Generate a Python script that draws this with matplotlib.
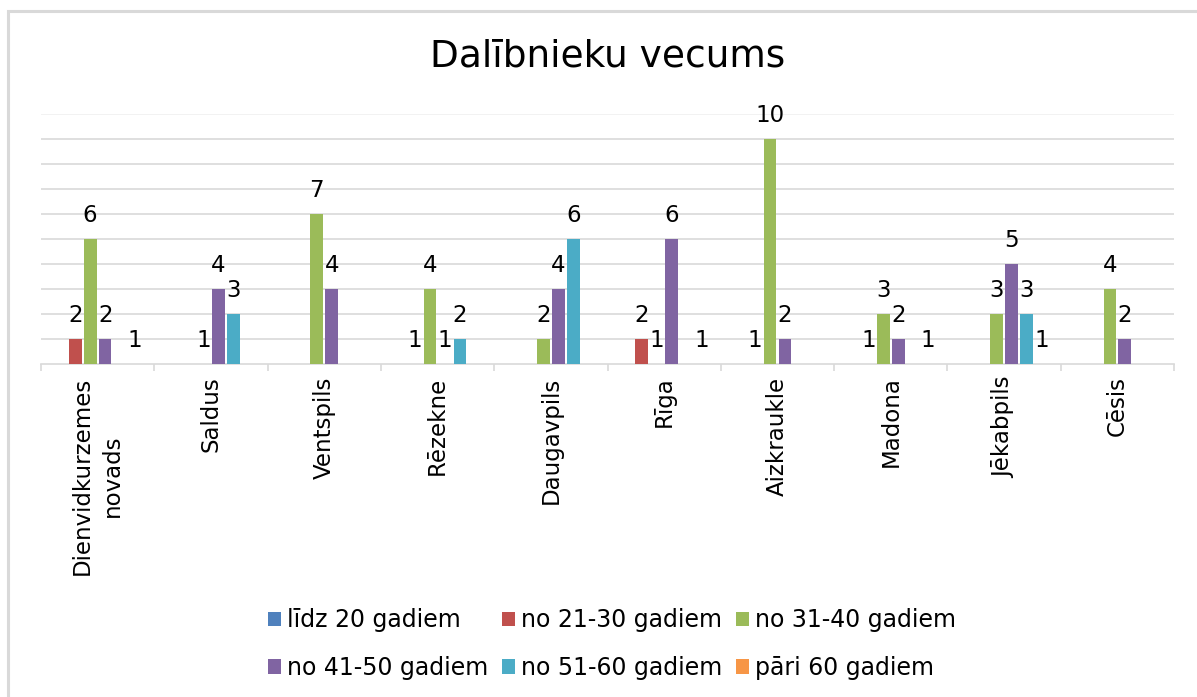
"""
Dalībnieku vecums - grouped bar chart
"""

import numpy as np
import matplotlib.pyplot as plt
from matplotlib.patches import Rectangle

# Categories (towns)
towns = ["Dienvidkurzemes\nnovads", "Saldus", "Ventspils", "Rēzekne", "Daugavpils",
         "Rīga", "Aizkraukle", "Madona", "Jēkabpils", "Cēsis"]

# Series labels
groups = ["līdz 20 gadiem", "no 21-30 gadiem", "no 31-40 gadiem",
          "no 41-50 gadiem", "no 51-60 gadiem", "pāri 60 gadiem"]

# Values per series (0 = no entry)
upto20 = [0, 0, 0, 0, 0, 0, 0, 0, 0, 0]
age21_30 = [2, 0, 0, 1, 0, 2, 1, 1, 0, 0]
age31_40 = [6, 1, 7, 4, 2, 1, 10, 3, 3, 4]
age41_50 = [2, 4, 4, 1, 4, 6, 2, 2, 5, 2]
age51_60 = [0, 3, 0, 2, 6, 0, 0, 0, 3, 0]
over60 = [1, 0, 0, 0, 0, 1, 0, 1, 1, 0]

series = [upto20, age21_30, age31_40, age41_50, age51_60, over60]
colors = ["#4F81BD", "#C0504D", "#9BBB59", "#8064A2", "#4BACC6", "#F79646"]

W, H = 1197, 697
fig = plt.figure(figsize=(W / 100, H / 100), dpi=100)
ax = fig.add_axes([41 / W, 1 - 364 / H, (1174 - 41) / W, 250 / H])

x = np.arange(len(towns))
step = 0.132
bw = 0.112
bars = []
for k, (vals, col, lab) in enumerate(zip(series, colors, groups)):
    pos = x + (k - 2.5) * step
    b = ax.bar(pos, vals, width=bw, color=col, label=lab, zorder=3)
    bars.append(b)
    for px, v in zip(pos, vals):
        if v > 0:
            ax.annotate(str(v), (px, v), xytext=(0, 12.5), textcoords="offset points",
                        ha="center", va="baseline", fontsize=16.5, color="black",
                        annotation_clip=False)

# Axis starts at 1 (as in the original chart)
ax.set_ylim(1, 11)
ax.set_xlim(-0.5, len(towns) - 0.5)
ax.set_yticks(range(2, 11))
ax.yaxis.grid(True, color="#d9d9d9", lw=1.2, zorder=0)
ax.axhline(11, color="#f0f0f0", lw=1.2, zorder=0)
ax.tick_params(axis="y", length=0, labelleft=False)

for s in ["top", "right", "left"]:
    ax.spines[s].set_visible(False)
ax.spines["bottom"].set_color("#d9d9d9")
ax.spines["bottom"].set_linewidth(1.2)

ax.set_xticks(x)
ax.set_xticklabels(towns, rotation=90, fontsize=16.5, va="top", ha="center",
                   multialignment="center", linespacing=1.4)
ax.tick_params(axis="x", which="major", length=0, pad=9)
ax.set_xticks(np.arange(-0.5, len(towns)), minor=True)
ax.tick_params(axis="x", which="minor", length=5, color="#d9d9d9", width=1.2)

fig.text(607.5 / W, 1 - 66.7 / H, "Dalībnieku vecums", ha="center", va="baseline",
         fontsize=27, color="black")

# legend row-major like Excel
order = [0, 3, 1, 4, 2, 5]
fig.legend([bars[i] for i in order], [groups[i] for i in order], loc="center",
           bbox_to_anchor=(612 / W, 1 - 644 / H), ncol=3, frameon=False,
           fontsize=17, handlelength=0.55, handleheight=0.55, handletextpad=0.25,
           columnspacing=0.6, labelspacing=1.0)

# chart border
fig.add_artist(Rectangle((7.5 / W, -0.1), 2, 1 - 10.5 / H + 0.1, transform=fig.transFigure,
                         fill=False, ec="#d9d9d9", lw=2.2))

plt.savefig("out.png", dpi=100)
